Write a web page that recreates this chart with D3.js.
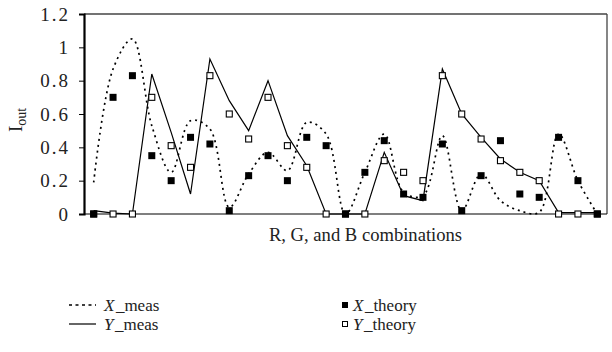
<!DOCTYPE html>
<html><head><meta charset="utf-8">
<script src="https://cdn.jsdelivr.net/npm/d3@7"></script>
<style>body{margin:0;background:#fff}svg{display:block}text{font-family:"Liberation Serif","DejaVu Serif",serif;fill:#222}</style>
</head><body>
<script>
const categories = d3.range(1, 28).map(String);
const xMeas   = [0.19,0.87,1.05,0.53,0.25,0.56,0.51,0.04,0.24,0.37,0.26,0.55,0.48,0.00,0.25,0.48,0.13,0.11,0.47,0.02,0.24,0.08,0.02,0.01,0.48,0.20,0.00];
const yMeas   = [0.02,0.005,0.00,0.84,0.49,0.12,0.93,0.68,0.50,0.80,0.47,0.29,0.00,0.00,0.00,0.37,0.11,0.08,0.87,0.60,0.46,0.33,0.25,0.20,0.008,0.008,0.008];
const xTheory = [0.00,0.70,0.83,0.35,0.20,0.46,0.42,0.02,0.23,0.35,0.20,0.46,0.41,0.00,0.25,0.44,0.12,0.10,0.42,0.02,0.23,0.44,0.12,0.10,0.46,0.20,0.00];
const yTheory = [0.00,0.00,0.00,0.70,0.41,0.28,0.83,0.60,0.45,0.70,0.41,0.28,0.00,0.00,0.00,0.32,0.25,0.20,0.83,0.60,0.45,0.32,0.25,0.20,0.00,0.00,0.00];
const yTicks = [0,0.2,0.4,0.6,0.8,1,1.2];

const W = 612, H = 352;
const svg = d3.select("body").append("svg").attr("width", W).attr("height", H);
const L = 84, R = 607, T = 14, B = 214;
const x = d3.scaleBand().domain(categories).range([L, R]);
const y = d3.scaleLinear().domain([0, 1.2]).range([B, T]);
const cx = (d, i) => x(categories[i]) + x.bandwidth() / 2;

// frame top and right
svg.append("line").attr("x1", L).attr("x2", R).attr("y1", T).attr("y2", T).attr("stroke", "#444").attr("stroke-width", 1.3);
svg.append("line").attr("x1", R).attr("x2", R).attr("y1", T).attr("y2", B).attr("stroke", "#444").attr("stroke-width", 1.3);

// y axis
const ya = svg.append("g").attr("transform", `translate(${L},0)`)
  .call(d3.axisLeft(y).tickValues(yTicks).tickSize(5).tickPadding(9).tickFormat(d3.format("~g")));
ya.select(".domain").attr("stroke", "#000").attr("stroke-width", 2.2);
ya.selectAll(".tick line").attr("stroke", "#000").attr("stroke-width", 1);
ya.selectAll(".tick text").attr("font-family", '"Liberation Serif",serif').attr("font-size", 19)
  .attr("letter-spacing", 2).attr("fill", "#222");

// x axis line
svg.append("line").attr("x1", L).attr("x2", R).attr("y1", B).attr("y2", B).attr("stroke", "#000").attr("stroke-width", 1.2);

// lines
svg.append("path").datum(xMeas)
  .attr("d", d3.line().x(cx).y(d => y(d)).curve(d3.curveCatmullRom.alpha(0.5)))
  .attr("fill", "none").attr("stroke", "#000").attr("stroke-width", 1.7).attr("stroke-dasharray", "2,4");
svg.append("path").datum(yMeas)
  .attr("d", d3.line().x(cx).y(d => y(d)))
  .attr("fill", "none").attr("stroke", "#000").attr("stroke-width", 1.2);

// markers
const s = 6;
svg.append("g").selectAll("rect").data(yTheory).join("rect")
  .attr("x", (d, i) => cx(d, i) - s / 2).attr("y", d => y(d) - s / 2)
  .attr("width", s).attr("height", s).attr("fill", "#fff").attr("stroke", "#000").attr("stroke-width", 1.1);
svg.append("g").selectAll("rect").data(xTheory).join("rect")
  .attr("x", (d, i) => cx(d, i) - s / 2 - 0.5).attr("y", d => y(d) - s / 2 - 0.5)
  .attr("width", s + 1).attr("height", s + 1).attr("fill", "#000");

// axis titles
svg.append("text").attr("x", 365.5).attr("y", 241).attr("text-anchor", "middle").attr("font-size", 18.6)
  .text("R, G, and B combinations");
const yl = svg.append("text").attr("transform", "translate(22,120) rotate(-90)").attr("text-anchor", "middle").attr("font-size", 19);
yl.append("tspan").text("I");
yl.append("tspan").attr("dy", 4).attr("font-size", 14).text("out");

// legend
const lg = svg.append("g");
function legText(xp, yp, v, rest) {
  const t = lg.append("text").attr("x", xp).attr("y", yp).attr("font-size", 17);
  t.append("tspan").attr("font-style", "italic").text(v);
  t.append("tspan").attr("dx", 1.5).text(rest);
}
lg.append("line").attr("x1", 69).attr("x2", 96).attr("y1", 305).attr("y2", 305).attr("stroke", "#000").attr("stroke-width", 1.5).attr("stroke-dasharray", "3,3.5");
lg.append("line").attr("x1", 69).attr("x2", 96).attr("y1", 324).attr("y2", 324).attr("stroke", "#000").attr("stroke-width", 1.2);
legText(104, 311, "X", "_meas");
legText(104, 330, "Y", "_meas");
lg.append("rect").attr("x", 342).attr("y", 302).attr("width", 6).attr("height", 6).attr("fill", "#000");
lg.append("rect").attr("x", 342.5).attr("y", 321.5).attr("width", 5).attr("height", 5).attr("fill", "#fff").attr("stroke", "#000").attr("stroke-width", 1);
legText(353, 311, "X", "_theory");
legText(353, 330, "Y", "_theory");
</script>
</body></html>
